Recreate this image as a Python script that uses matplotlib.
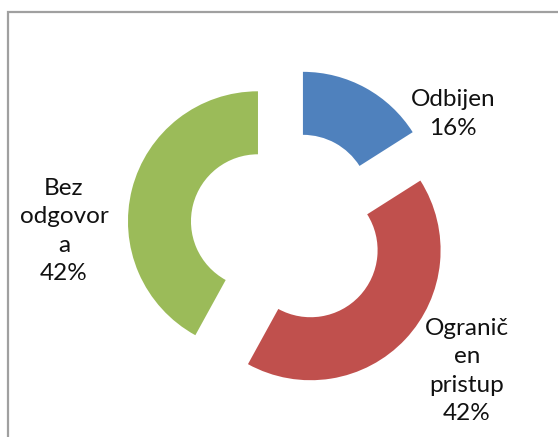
import matplotlib.pyplot as plt
from matplotlib.patches import Rectangle

labels = ["Odbijen\n16%", "Ograničen\npristup\n42%", "Bez\nodgovor\na\n42%"]
shown = ["Odbijen\n16%", "Ogranič\nen\npristup\n42%", "Bez\nodgovor\na\n42%"]
values = [16, 42, 42]
colors = ["#4F81BD", "#C0504D", "#9BBB59"]
# label block centres in pixels (x, y from top)
label_pos = [(453, 114), (467, 371), (64, 231)]

W, H = 558, 437
R = 130.0
cx, cy = 288, 229

fig = plt.figure(figsize=(W / 100, H / 100), dpi=100)
fig.patch.set_facecolor("white")

# chart frame (runs off the right and bottom edges)
fig.patches.append(Rectangle((8 / W, -0.1), 1, 1.1 - 12 / H, transform=fig.transFigure,
                             fill=False, edgecolor="#a0a0a0", linewidth=1.6))

ax = fig.add_axes([0, 0, 1, 1])
ax.axis("off")

ax.pie(values, colors=colors, startangle=90, counterclock=False, radius=1,
       explode=[31 / R] * 3, center=(0, 0), frame=False,
       wedgeprops=dict(width=63 / R, linewidth=0))
ax.set_xlim(-cx / R, (W - cx) / R)
ax.set_ylim(-(H - cy) / R, cy / R)
ax.set_aspect("auto")

for txt, (px, py) in zip(shown, label_pos):
    ax.text((px - cx) / R, (cy - py) / R, txt, ha="center", va="center",
            multialignment="center", fontsize=17.5, family=["Lato", "DejaVu Sans"],
            color="#111111", linespacing=1.42)

fig.savefig("out.png", dpi=100)
